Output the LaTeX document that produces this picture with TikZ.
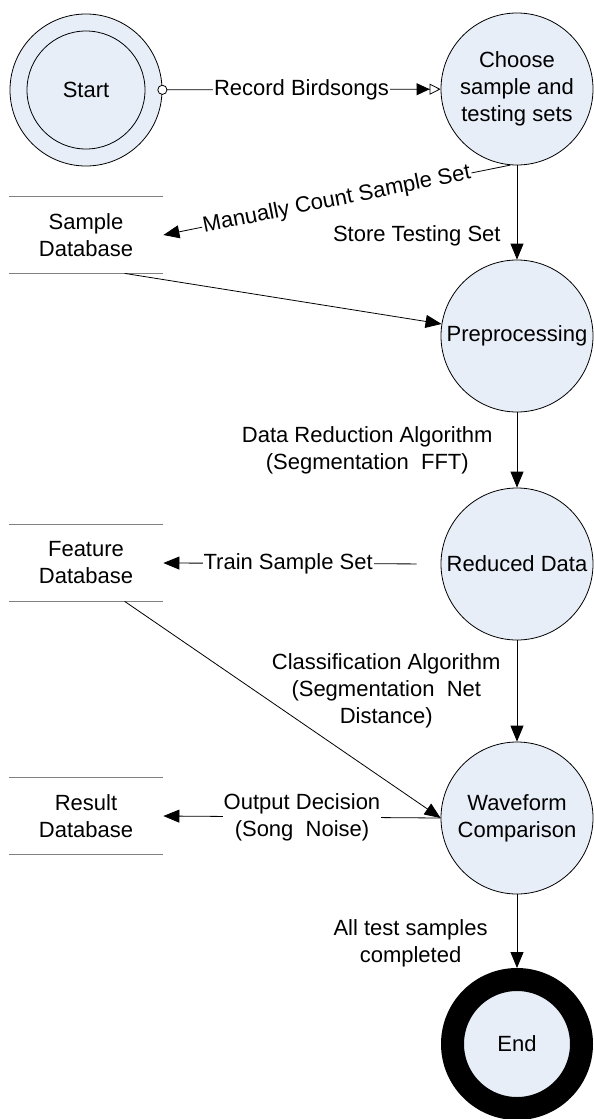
\documentclass[tikz,border=0pt]{standalone}
\usepackage{fontspec}
\setmainfont{Liberation Sans}
\usetikzlibrary{arrows.meta,calc}

\definecolor{stateblue}{RGB}{232,238,248}
\definecolor{storegray}{RGB}{128,128,128}

\tikzset{
  state/.style={circle, draw, fill=stateblue, minimum size=152pt, inner sep=0pt, align=center},
  store/.style={minimum width=154pt, minimum height=76pt, inner sep=0pt, align=center},
  flow/.style={-{Triangle[length=16pt,width=13pt]}},
  lbl/.style={fill=white, inner sep=1pt, align=center},
  note/.style={align=center, inner sep=1pt}
}

\begin{document}
\begin{tikzpicture}[x=1pt, y=-1pt, font=\fontsize{22}{27}\selectfont, line width=0.8pt]
  \useasboundingbox (0,0) rectangle (594,1119);
%  \draw[help lines] (0,0) grid[step=50pt] (594,1119);
  \node[state] (start) at (86,90) {Start};
  \draw (start.center) circle (59pt);
  \node[state] (choose) at (517,89) {Choose\\sample and\\testing sets};
  \node[state] (prep) at (517,336) {Preprocessing};
  \node[state] (reduced) at (517,564) {Reduced Data};
  \node[state] (wave) at (517,818) {Waveform\\Comparison};
  \node[state, line width=23pt, minimum size=129pt] (finish) at (517,1044) {End};

  \node[store] (sampledb) at (86,235) {Sample\\Database};
  \node[store] (featuredb) at (86,563) {Feature\\Database};
  \node[store] (resultdb) at (86,816) {Result\\Database};
  \foreach \db in {sampledb,featuredb,resultdb}
    \draw[storegray, line width=1pt] (\db.north west) -- (\db.north east)
      (\db.south west) -- (\db.south east);

  \draw[{Circle[open,fill=white,length=10pt,width=10pt]}-{Triangle[length=13pt,width=12pt] Triangle[open,length=11pt,width=11pt]}, shorten <=-5pt]
    (start) -- node[lbl] {Record Birdsongs} (choose);

  \path[flow]
  (choose.-95) edge node[lbl, sloped] {Manually Count Sample Set} (sampledb.east)
  (choose) edge node[note, left=15pt, pos=.75] {Store Testing Set} (prep)
  ($(sampledb.south)!.5!(sampledb.south east)$) edge (prep)
  (prep) edge node[note, left=23pt] {Data Reduction Algorithm\\(Segmentation\ \ FFT)} (reduced)
  (reduced.west) edge[shorten <=24pt] node[lbl, pos=.55] {Train Sample Set} (featuredb.east)
  ($(featuredb.south)!.5!(featuredb.south east)$) edge (wave.west)
  (reduced) edge node[note, left=15pt] {Classification Algorithm\\(Segmentation\ \ Net\\Distance)} (wave)
  (wave.west) edge node[lbl] {Output Decision\\(Song\ \ Noise)} (resultdb.east)
  (wave) edge node[note, left=28pt, pos=.67] {All test samples\\completed} (finish);
\end{tikzpicture}
\end{document}
